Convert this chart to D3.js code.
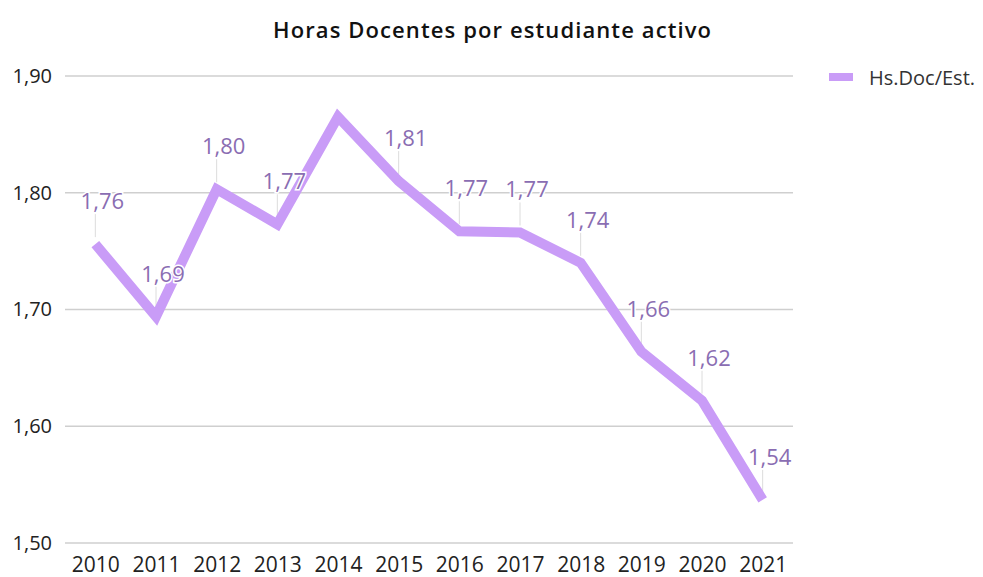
<!DOCTYPE html>
<html><head><meta charset="utf-8">
<script src="https://cdn.jsdelivr.net/npm/d3@7"></script>
<style>html,body{margin:0;padding:0;background:#fff;}svg{display:block;}</style>
</head><body>
<script>
const years = ["2010","2011","2012","2013","2014","2015","2016","2017","2018","2019","2020","2021"];
const values = [1.756,1.694,1.803,1.773,1.865,1.810,1.767,1.766,1.740,1.664,1.622,1.537];
const showLabel = [true,true,true,true,false,true,true,true,true,true,true,true];
const yTicks = [1.5,1.6,1.7,1.8,1.9];
const seriesName = "Hs.Doc/Est.";
const title = "Horas Docentes por estudiante activo";

const W=983,H=577;
const m={left:65,right:190,top:76,bottom:34};
const svg=d3.select("body").append("svg").attr("width",W).attr("height",H);
const font="'Open Sans', sans-serif";
const fmt=v=>d3.format(".2f")(v).replace(".",",");

const x=d3.scalePoint().domain(years).range([m.left,W-m.right]).padding(0.5);
const y=d3.scaleLinear().domain([1.5,1.9]).range([H-m.bottom,m.top]);

// grid
svg.append("g").selectAll("line").data(yTicks).join("line")
  .attr("x1",m.left).attr("x2",W-m.right)
  .attr("y1",d=>y(d)).attr("y2",d=>y(d))
  .attr("stroke","#cfcfcf").attr("stroke-width",1.5);

// y axis labels
const ya=svg.append("g").attr("transform",`translate(${m.left},0)`)
  .call(d3.axisLeft(y).tickValues(yTicks).tickSize(0).tickPadding(13).tickFormat(fmt));
ya.select(".domain").remove();
ya.selectAll("text").attr("font-family",font).attr("font-size",20).attr("fill","#222");

// x axis labels
const xa=svg.append("g").attr("transform",`translate(0,${H-m.bottom})`)
  .call(d3.axisBottom(x).tickSize(0).tickPadding(14));
xa.select(".domain").remove();
xa.selectAll("text").attr("font-family",font).attr("font-size",21).attr("fill","#222");

const pts=years.map((yr,i)=>({yr,v:values[i],show:showLabel[i]}));

// leader lines
svg.append("g").selectAll("line").data(pts.filter(d=>d.show)).join("line")
  .attr("x1",d=>x(d.yr)).attr("x2",d=>x(d.yr))
  .attr("y1",d=>y(d.v)-30).attr("y2",d=>y(d.v)-7)
  .attr("stroke","#dcdcdc").attr("stroke-width",1);

// line
svg.append("path").datum(pts)
  .attr("d",d3.line().x(d=>x(d.yr)).y(d=>y(d.v)))
  .attr("fill","none").attr("stroke","#c99cf7").attr("stroke-width",10)
  .attr("stroke-linejoin","miter");

// value labels
svg.append("g").selectAll("text").data(pts.filter(d=>d.show)).join("text")
  .attr("x",d=>x(d.yr)+7).attr("y",d=>y(d.v)-35)
  .attr("text-anchor","middle").attr("font-family",font).attr("font-size",22)
  .attr("fill","#8a6db2").attr("stroke","#fff").attr("stroke-width",3)
  .attr("paint-order","stroke").text(d=>fmt(d.v));

// title
svg.append("text").attr("x",492).attr("y",38).attr("text-anchor","middle")
  .attr("font-family",font).attr("font-size",22).attr("font-weight",600)
  .attr("textLength",438).attr("lengthAdjust","spacing")
  .attr("fill","#111").text(title);

// legend
const lg=svg.append("g");
lg.append("line").attr("x1",829).attr("x2",853).attr("y1",77).attr("y2",77)
  .attr("stroke","#c99cf7").attr("stroke-width",8);
lg.append("text").attr("x",869).attr("y",85).attr("font-family",font).attr("font-size",20)
  .attr("fill","#333").text(seriesName);
</script>
</body></html>
